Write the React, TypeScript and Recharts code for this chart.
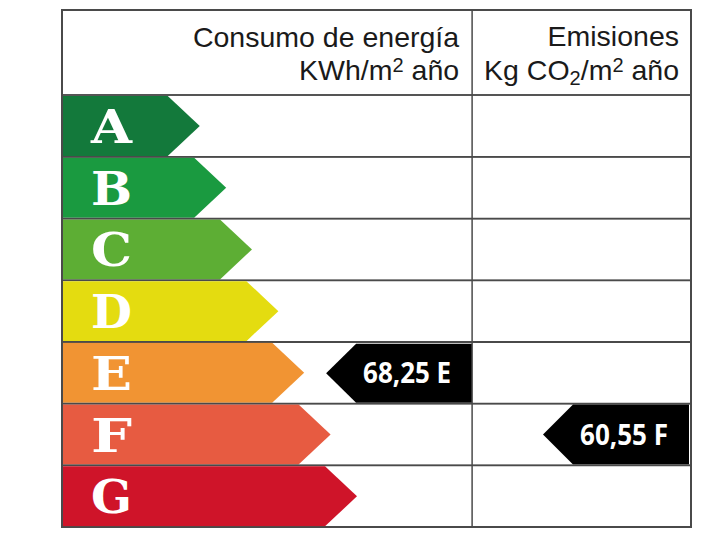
import React from 'react';
import { BarChart, Bar, XAxis, YAxis, Customized } from 'recharts';

const ratings = ['A', 'B', 'C', 'D', 'E', 'F', 'G'];
const ratingColors = ['#13793b', '#1a9a40', '#5dae34', '#e4dc10', '#f19433', '#e75b41', '#cf1429'];
// arrow length as a share of the table width
const arrowLengths = [21.9, 26.1, 30.2, 34.4, 38.5, 42.7, 46.9];
const consumoValues = [null, null, null, null, 68.25, null, null];
const emisionesValues = [null, null, null, null, null, 60.55, null];

const data = ratings.map((rating, i) => ({
  rating,
  arrow: arrowLengths[i],
  color: ratingColors[i],
  consumo: consumoValues[i],
  emisiones: emisionesValues[i],
}));

const WIDTH = 728;
const HEIGHT = 553;
const MARGIN = { top: 95, right: 37, bottom: 26, left: 62 };
const PLOT_W = WIDTH - MARGIN.left - MARGIN.right;
const HEADER_H = 85;
const SPLIT = 0.652; // energy column share
const LINE = '#4a4a4a';

const fmt = (v: number, r: string) => `${v.toFixed(2).replace('.', ',')} ${r}`;

function Pointer({ right, top, bottom, label }: { right: number; top: number; bottom: number; label: string }) {
  const w = 146;
  const notch = 30;
  const tip = right - w;
  const cy = (top + bottom) / 2;
  const pts = `${tip},${cy} ${tip + notch},${top} ${right},${top} ${right},${bottom} ${tip + notch},${bottom}`;
  const cx = (tip + notch + right) / 2 - 7;
  return (
    <g>
      <polygon points={pts} fill="#000" />
      <text
        x={cx}
        y={cy + 10}
        textAnchor="middle"
        fill="#fff"
        fontFamily="'Open Sans', sans-serif"
        fontWeight={700}
        fontSize={28}
        textLength={88}
        lengthAdjust="spacingAndGlyphs"
      >
        {label}
      </text>
    </g>
  );
}

function RatingRow(props: any) {
  const { x, y, width, height, payload } = props;
  const left = x + 1;
  const top = y + 1;
  const bottom = y + height - 1;
  const cy = y + height / 2;
  const tip = x + width;
  const notch = 32;
  const pts = `${left},${top} ${tip - notch},${top} ${tip},${cy} ${tip - notch},${bottom} ${left},${bottom}`;
  const splitX = x + PLOT_W * SPLIT;
  return (
    <g>
      <polygon points={pts} fill={payload.color} />
      <text
        x={x + 29}
        y={cy + 17}
        fill="#fff"
        fontFamily="'DejaVu Serif', serif"
        fontWeight={700}
        fontSize={47}
        textLength={41}
        lengthAdjust="spacingAndGlyphs"
      >
        {payload.rating}
      </text>
      {payload.consumo != null && (
        <Pointer right={splitX} top={y + 2} bottom={y + height - 1} label={fmt(payload.consumo, payload.rating)} />
      )}
      {payload.emisiones != null && (
        <Pointer right={x + PLOT_W - 2} top={y + 1} bottom={y + height - 1} label={fmt(payload.emisiones, payload.rating)} />
      )}
      <line x1={x} x2={x + PLOT_W} y1={y} y2={y} stroke={LINE} strokeWidth={1.5} />
      <line x1={x} x2={x + PLOT_W} y1={y + height} y2={y + height} stroke={LINE} strokeWidth={1.5} />
      <line x1={splitX} x2={splitX} y1={y} y2={y + height} stroke={LINE} strokeWidth={1.5} />
    </g>
  );
}

function Header() {
  const left = MARGIN.left;
  const right = WIDTH - MARGIN.right;
  const top = MARGIN.top - HEADER_H;
  const bottom = HEIGHT - MARGIN.bottom;
  const splitX = left + PLOT_W * SPLIT;
  const font = { fontFamily: "'Liberation Sans', Arial, sans-serif", fontSize: 28.5, fill: '#1a1a1a' };
  return (
    <g>
      <rect x={left} y={top} width={right - left} height={bottom - top} fill="none" stroke={LINE} strokeWidth={2} />
      <line x1={left} x2={right} y1={MARGIN.top} y2={MARGIN.top} stroke={LINE} strokeWidth={1.5} />
      <line x1={splitX} x2={splitX} y1={top} y2={MARGIN.top} stroke={LINE} strokeWidth={1.5} />
      <text x={splitX - 13} y={top + 37} textAnchor="end" {...font}>Consumo de energía</text>
      <text x={splitX - 13} y={top + 70} textAnchor="end" {...font}>
        KWh/m<tspan fontSize={20} dy={-8}>2</tspan><tspan dy={8}> año</tspan>
      </text>
      <text x={right - 12} y={top + 36} textAnchor="end" {...font}>Emisiones</text>
      <text x={right - 12} y={top + 70} textAnchor="end" {...font}>
        Kg CO<tspan fontSize={20} dy={5}>2</tspan><tspan dy={-5}>/m</tspan><tspan fontSize={20} dy={-8}>2</tspan><tspan dy={8}> año</tspan>
      </text>
    </g>
  );
}

export default function App() {
  return (
    <div style={{ position: 'absolute', left: 0, top: 0, width: WIDTH, height: HEIGHT, background: '#fff' }}>
      <BarChart
        width={WIDTH}
        height={HEIGHT}
        data={data}
        layout="vertical"
        margin={MARGIN}
        barCategoryGap={0}
        barGap={0}
      >
        <XAxis type="number" domain={[0, 100]} hide />
        <YAxis type="category" dataKey="rating" hide />
        <Bar dataKey="arrow" isAnimationActive={false} shape={RatingRow} />
        <Customized component={<Header />} />
      </BarChart>
    </div>
  );
}
